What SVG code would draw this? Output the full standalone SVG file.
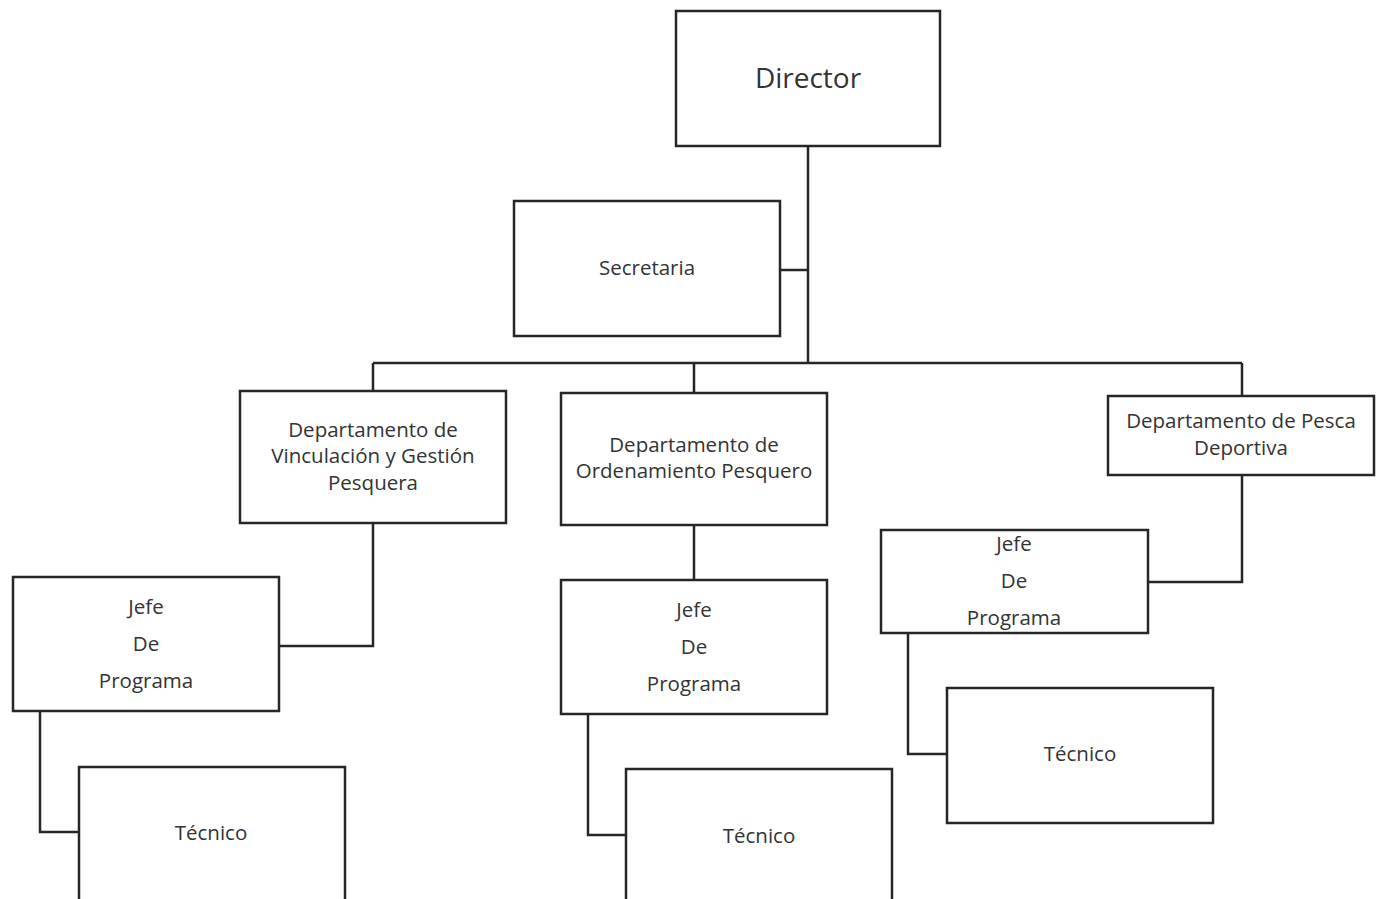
<svg xmlns="http://www.w3.org/2000/svg" width="1384" height="899" viewBox="0 0 1384 899">
<style>
.box{fill:#fff;stroke:#262626;stroke-width:2.5}
.ln{fill:none;stroke:#262626;stroke-width:2.5}
text{font-family:"Open Sans","Noto Sans",sans-serif;fill:#333;font-size:20.5px;text-anchor:middle;dominant-baseline:central}
.big{font-size:28px}
</style>
<rect width="1384" height="899" fill="#fff"/>
<g id="connectors">
<path class="ln" d="M808 146V363M780 270H808M373 363H1242M373 363V391M694 363V393M1242 363V396"/>
<path class="ln" d="M373 523V646H279M40 711V832H79"/>
<path class="ln" d="M694 525V580M588 714V835H626"/>
<path class="ln" d="M1242 475V582H1148M908 633V754H947"/>
</g>
<g id="director"><rect class="box" x="676" y="11" width="264" height="135"/><text class="big" x="808" y="77">Director</text></g>
<g id="secretaria"><rect class="box" x="514" y="201" width="266" height="135"/><text x="647" y="267">Secretaria</text></g>
<g id="dept-vinculacion"><rect class="box" x="240" y="391" width="266" height="132"/><text x="373" y="429">Departamento de</text><text x="373" y="455">Vinculación y Gestión</text><text x="373" y="482">Pesquera</text></g>
<g id="dept-ordenamiento"><rect class="box" x="561" y="393" width="266" height="132"/><text x="694" y="444">Departamento de</text><text x="694" y="470">Ordenamiento Pesquero</text></g>
<g id="dept-pesca"><rect class="box" x="1108" y="396" width="266" height="79"/><text x="1241" y="420">Departamento de Pesca</text><text x="1241" y="447">Deportiva</text></g>
<g id="jefe1"><rect class="box" x="13" y="577" width="266" height="134"/><text x="146" y="606">Jefe</text><text x="146" y="643">De</text><text x="146" y="680">Programa</text></g>
<g id="jefe2"><rect class="box" x="561" y="580" width="266" height="134"/><text x="694" y="609">Jefe</text><text x="694" y="646">De</text><text x="694" y="683">Programa</text></g>
<g id="jefe3"><rect class="box" x="881" y="530" width="267" height="103"/><text x="1014" y="543">Jefe</text><text x="1014" y="580">De</text><text x="1014" y="617">Programa</text></g>
<g id="tecnico1"><rect class="box" x="79" y="767" width="266" height="150"/><text x="211" y="832">Técnico</text></g>
<g id="tecnico2"><rect class="box" x="626" y="769" width="266" height="150"/><text x="759" y="835">Técnico</text></g>
<g id="tecnico3"><rect class="box" x="947" y="688" width="266" height="135"/><text x="1080" y="753">Técnico</text></g>
</svg>
